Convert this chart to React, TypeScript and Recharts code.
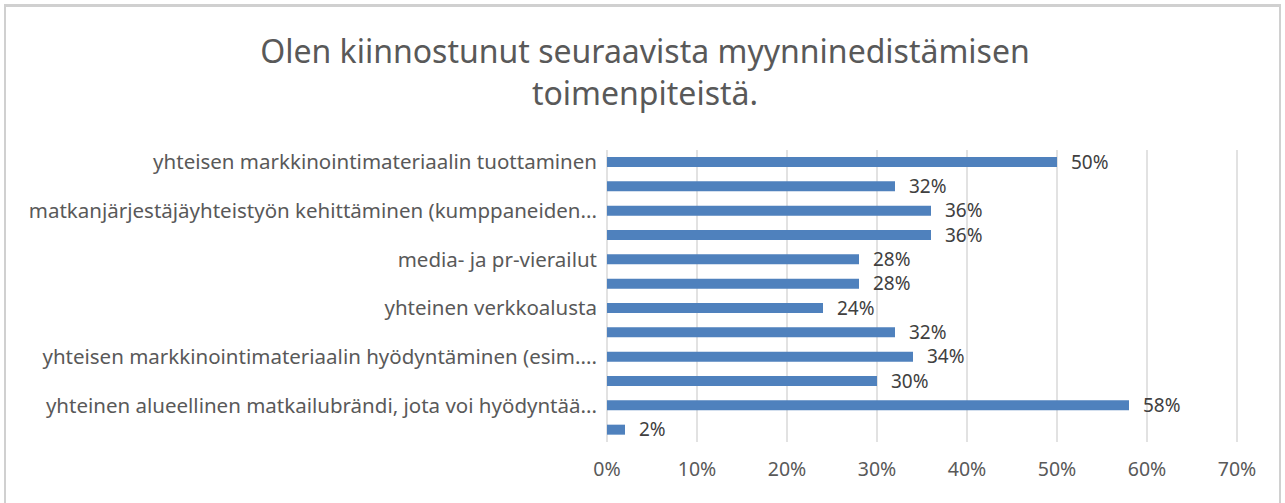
import React from 'react';
import { BarChart, Bar, XAxis, YAxis, CartesianGrid, LabelList } from 'recharts';

// Only every other category label is shown in the original (Excel skipped the rest)
const categories = [
  'yhteisen markkinointimateriaalin tuottaminen',
  '',
  'matkanjärjestäjäyhteistyön kehittäminen (kumppaneiden...',
  '',
  'media- ja pr-vierailut',
  '',
  'yhteinen verkkoalusta',
  '',
  'yhteisen markkinointimateriaalin hyödyntäminen (esim....',
  '',
  'yhteinen alueellinen matkailubrändi, jota voi hyödyntää...',
  '',
];
const values = [0.5, 0.32, 0.36, 0.36, 0.28, 0.28, 0.24, 0.32, 0.34, 0.3, 0.58, 0.02];
const xTicks = [0, 0.1, 0.2, 0.3, 0.4, 0.5, 0.6, 0.7];

const chartData = categories.map((name, i) => ({ name, value: values[i] }));

const pct = (v: number) => `${Math.round(v * 100)}%`;
const FONT = '"Noto Sans", sans-serif';

const App = () => {
  return (
    <div style={{ position: 'absolute', left: 0, top: 0, width: 1285, height: 503, background: '#fff', fontFamily: FONT }}>
      <div
        style={{
          position: 'absolute',
          top: 30,
          left: 0,
          width: 1290,
          textAlign: 'center',
          color: '#595959',
          fontSize: 32,
          lineHeight: '42px',
        }}
      >
        Olen kiinnostunut seuraavista myynninedistämisen
        <br />
        toimenpiteistä.
      </div>
      <div style={{ position: 'absolute', left: 0, top: 0 }}>
        <BarChart
          width={1285}
          height={503}
          data={chartData}
          layout="vertical"
          margin={{ top: 150, right: 48, bottom: 20, left: 4 }}
          barSize={10}
        >
          <CartesianGrid horizontal={false} stroke="#d9d9d9" strokeWidth={1.5} />
          <XAxis
            type="number"
            domain={[0, 0.7]}
            ticks={xTicks}
            tickFormatter={pct}
            axisLine={false}
            tickLine={false}
            height={41}
            tickMargin={14}
            tick={{ fill: '#595959', fontSize: 19.5, fontFamily: FONT }}
          />
          <YAxis
            type="category"
            dataKey="name"
            width={603}
            interval={1}
            axisLine={false}
            tickLine={false}
            tickMargin={4}
            tick={{ fill: '#595959', fontSize: 20.5, fontFamily: FONT }}
          />
          <Bar dataKey="value" fill="#4f81bd" isAnimationActive={false}>
            <LabelList
              dataKey="value"
              position="right"
              offset={14}
              formatter={(v: any) => pct(Number(v))}
              style={{ fill: '#404040', fontSize: 19, fontFamily: FONT }}
            />
          </Bar>
        </BarChart>
      </div>
      {/* chart frame, open at the bottom like the cropped original */}
      <div
        style={{
          position: 'absolute',
          left: 4,
          top: 4,
          width: 1277,
          height: 530,
          borderTop: '3px solid #d0d0d0',
          borderLeft: '2px solid #d0d0d0',
          borderRight: '2px solid #d0d0d0',
          boxSizing: 'border-box',
          pointerEvents: 'none',
        }}
      />
    </div>
  );
};

export default App;
